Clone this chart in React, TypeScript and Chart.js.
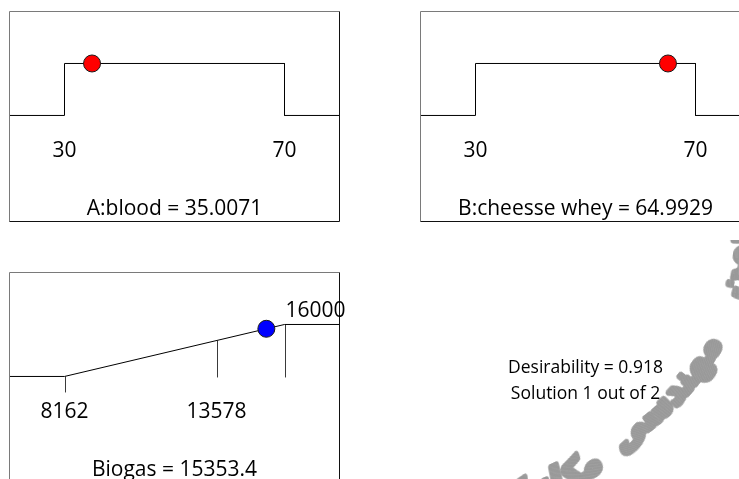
import { useEffect, useRef } from "react";
import { Chart, registerables } from "chart.js";

Chart.register(...registerables);

const FONT = '"Open Sans", "Noto Sans", "DejaVu Sans", sans-serif';

// Factor A: blood — limits of the allowed range and the optimum found
const bloodRange = [30, 70];
const bloodOptimum = 35.0071;

// Factor B: cheesse whey
const wheyRange = [30, 70];
const wheyOptimum = 64.9929;

// Response: biogas — low limit, intermediate mark, high limit, predicted value
const biogasMarks = [8162, 13578, 16000];
const biogasOptimum = 15353.4;

// Overall result of the optimisation
const desirability = 0.918;
const solutionNo = 1;
const solutionTotal = 2;

const watermarkWords = ["انجمن", "مهندسی", "مکانیک"];

type Pt = { x: number; y: number };

// In-range desirability for a factor: 0 outside the limits, 1 inside.
function stepRamp(lo: number, hi: number): Pt[] {
  const pad = (hi - lo) * 0.25;
  return [
    { x: lo - pad, y: 0 },
    { x: lo, y: 0 },
    { x: lo, y: 1 },
    { x: hi, y: 1 },
    { x: hi, y: 0 },
    { x: hi + pad, y: 0 },
  ];
}

// Maximise-goal desirability: linear rise from the low to the high limit.
function riseRamp(lo: number, hi: number): Pt[] {
  const pad = (hi - lo) * 0.25;
  return [
    { x: lo - pad, y: 0 },
    { x: lo, y: 0 },
    { x: hi, y: 1 },
    { x: hi + pad, y: 1 },
  ];
}

const riseValue = (v: number, lo: number, hi: number) =>
  Math.max(0, Math.min(1, (v - lo) / (hi - lo)));

type TickSpec = { value: number; label: string; atTop?: boolean };
type MarkSpec = { value: number; kind: "below" | "drop" };

// Frame, value labels and caption of one ramp panel.
const panelDecor = {
  id: "panelDecor",
  beforeDatasetsDraw(chart: any, _a: any, opts: any) {
    const { ctx, scales } = chart;
    const xs = scales.x;
    const ys = scales.y;
    const y0 = ys.getPixelForValue(0);
    ctx.save();
    ctx.lineWidth = 1;
    ctx.strokeStyle = "#3a3a3a";
    for (const m of (opts.marks || []) as MarkSpec[]) {
      const px = Math.round(xs.getPixelForValue(m.value)) + 0.5;
      ctx.beginPath();
      if (m.kind === "below") {
        ctx.moveTo(px, y0);
        ctx.lineTo(px, y0 + 16);
      } else {
        ctx.moveTo(px, ys.getPixelForValue(riseValue(m.value, opts.rampLo, opts.rampHi)));
        ctx.lineTo(px, y0 + 1);
      }
      ctx.stroke();
    }
    ctx.restore();
  },
  afterDraw(chart: any, _a: any, opts: any) {
    const { ctx, chartArea: a, scales } = chart;
    const xs = scales.x;
    const ys = scales.y;
    ctx.save();
    ctx.lineWidth = 1;
    ctx.strokeStyle = "#7a7a7a";
    ctx.beginPath();
    ctx.moveTo(a.left, a.bottom);
    ctx.lineTo(a.left, a.top);
    ctx.lineTo(a.right, a.top);
    ctx.stroke();
    ctx.strokeStyle = "#111";
    ctx.beginPath();
    ctx.moveTo(a.right, a.top);
    ctx.lineTo(a.right, a.bottom);
    ctx.lineTo(a.left, a.bottom);
    ctx.stroke();

    ctx.fillStyle = "#000";
    ctx.font = `21px ${FONT}`;
    ctx.textBaseline = "alphabetic";
    for (const t of opts.ticks as TickSpec[]) {
      const px = xs.getPixelForValue(t.value);
      if (t.atTop) {
        ctx.textAlign = "left";
        ctx.fillText(t.label, px + 1, ys.getPixelForValue(1) - 7);
      } else {
        ctx.textAlign = "center";
        ctx.fillText(t.label, px, a.top + 145.5);
      }
    }
    ctx.textAlign = "center";
    ctx.fillText(opts.caption, (a.left + a.right) / 2, a.top + 203.5);
    ctx.restore();
  },
};

// Baseline radius of the watermark path: a circle that opens out
// towards the lower-left end.
const pathRadius = (deg: number) => 246 + Math.max(0, deg - 55) * 0.9;
const WM_CX = 502;
const WM_CY = 232;

// One word bent along the path, glyph tops facing the centre.
// `rightAngle` is where the word's visual right end sits (degrees, screen space).
function drawArcWord(
  ctx: CanvasRenderingContext2D,
  word: string,
  font: string,
  size: number,
  rightAngle: number,
  color: string
) {
  const probe = document.createElement("canvas").getContext("2d")!;
  probe.font = font;
  const w = probe.measureText(word).width;
  const pad = 16;
  const off = document.createElement("canvas");
  off.width = Math.ceil(w + pad * 2);
  off.height = Math.ceil(size * 2.2);
  const B = Math.round(size * 1.3);
  const oc = off.getContext("2d")!;
  oc.font = font;
  oc.direction = "rtl";
  oc.textAlign = "right";
  oc.textBaseline = "alphabetic";
  oc.fillStyle = color;
  oc.strokeStyle = color;
  oc.lineWidth = size * 0.17;
  oc.lineJoin = "round";
  const xr = off.width - pad;
  oc.strokeText(word, xr, B);
  oc.fillText(word, xr, B);

  // walk the columns from the right end leftwards, advancing along the path
  let deg = rightAngle - (pad * 180) / Math.PI / pathRadius(rightAngle);
  for (let x = off.width - 1; x >= 0; x--) {
    const R = pathRadius(deg);
    const th = (deg * Math.PI) / 180;
    ctx.save();
    ctx.translate(WM_CX + R * Math.cos(th), WM_CY + R * Math.sin(th));
    ctx.rotate(th - Math.PI / 2);
    ctx.drawImage(off, x, 0, 1, off.height, 0, -B, 1.5, off.height);
    ctx.restore();
    deg += (180 / Math.PI) / R;
  }
}

function drawWatermark(ctx: CanvasRenderingContext2D) {
  const probe = document.createElement("canvas").getContext("2d")!;
  probe.font = `bold 100px "DejaVu Sans", sans-serif`;
  const size = (100 * 150) / probe.measureText(watermarkWords[1]).width;
  const font = `bold ${size}px "DejaVu Sans", sans-serif`;
  probe.font = font;
  const leadSpan =
    (probe.measureText(watermarkWords[0]).width / pathRadius(10)) * (180 / Math.PI);
  const color = "#999999";
  drawArcWord(ctx, watermarkWords[0], font, size, 16 - leadSpan, color);
  drawArcWord(ctx, watermarkWords[1], font, size, 27, color);
  drawArcWord(ctx, watermarkWords[2], font, size, 67, color);
}

// Overall desirability read-out, drawn in page coordinates.
const solutionSummary = {
  id: "solutionSummary",
  afterDraw(chart: any, _a: any, opts: any) {
    const { ctx } = chart;
    ctx.save();
    ctx.translate(-opts.originX, -opts.originY);
    drawWatermark(ctx);
    ctx.fillStyle = "#000";
    ctx.font = `17.5px ${FONT}`;
    ctx.textAlign = "center";
    ctx.textBaseline = "alphabetic";
    ctx.fillText(`Desirability = ${desirability.toFixed(3)}`, 585.5, 372.7);
    ctx.fillText(`Solution ${solutionNo} out of ${solutionTotal}`, 585.5, 399.3);
    ctx.restore();
  },
};

type PanelSpec = {
  key: string;
  x: number;
  y: number;
  w: number;
  h: number;
  box: { l: number; t: number; r: number; b: number };
  ramp: Pt[];
  lo: number;
  hi: number;
  optimum: number;
  optimumD: number;
  dot: string;
  ticks: TickSpec[];
  marks: MarkSpec[];
  caption: string;
  summary?: boolean;
};

const panels: PanelSpec[] = [
  {
    key: "blood",
    x: 0,
    y: 0,
    w: 352,
    h: 236,
    box: { l: 9.5, t: 11.5, r: 339.5, b: 221.5 },
    ramp: stepRamp(bloodRange[0], bloodRange[1]),
    lo: bloodRange[0],
    hi: bloodRange[1],
    optimum: bloodOptimum,
    optimumD: 1,
    dot: "#ff0000",
    ticks: bloodRange.map((v) => ({ value: v, label: String(v) })),
    marks: [],
    caption: `A:blood = ${bloodOptimum}`,
  },
  {
    key: "whey",
    x: 410,
    y: 0,
    w: 352,
    h: 236,
    box: { l: 420.5, t: 11.5, r: 750.5, b: 221.5 },
    ramp: stepRamp(wheyRange[0], wheyRange[1]),
    lo: wheyRange[0],
    hi: wheyRange[1],
    optimum: wheyOptimum,
    optimumD: 1,
    dot: "#ff0000",
    ticks: wheyRange.map((v) => ({ value: v, label: String(v) })),
    marks: [],
    caption: `B:cheesse whey = ${wheyOptimum}`,
  },
  {
    key: "biogas",
    x: 0,
    y: 240,
    w: 739,
    h: 260,
    box: { l: 9.5, t: 272.5, r: 339.5, b: 482.5 },
    ramp: riseRamp(biogasMarks[0], biogasMarks[2]),
    lo: biogasMarks[0],
    hi: biogasMarks[2],
    optimum: biogasOptimum,
    optimumD: riseValue(biogasOptimum, biogasMarks[0], biogasMarks[2]),
    dot: "#0000ff",
    ticks: [
      { value: biogasMarks[0], label: String(biogasMarks[0]) },
      { value: biogasMarks[1], label: String(biogasMarks[1]) },
      { value: biogasMarks[2], label: String(biogasMarks[2]), atTop: true },
    ],
    marks: [
      { value: biogasMarks[0], kind: "below" },
      { value: biogasMarks[1], kind: "drop" },
      { value: biogasMarks[2], kind: "drop" },
    ],
    caption: `Biogas = ${biogasOptimum}`,
    summary: true,
  },
];

function makeConfig(p: PanelSpec): any {
  const pad = (p.hi - p.lo) * 0.25;
  return {
    type: "scatter",
    data: {
      datasets: [
        {
          data: [{ x: p.optimum, y: p.optimumD }],
          pointRadius: 8.5,
          pointBackgroundColor: p.dot,
          backgroundColor: p.dot,
          pointBorderColor: "#1a1a1a",
          borderColor: "#1a1a1a",
          pointBorderWidth: 1,
          order: 0,
        },
        {
          data: p.ramp,
          showLine: true,
          borderColor: "#000",
          borderWidth: 1,
          pointRadius: 0,
          tension: 0,
          order: 1,
        },
      ],
    },
    options: {
      responsive: false,
      animation: false,
      events: [],
      layout: {
        padding: {
          left: p.box.l - p.x,
          top: p.box.t - p.y,
          right: p.x + p.w - p.box.r,
          bottom: p.y + p.h - p.box.b,
        },
      },
      scales: {
        x: { type: "linear", display: false, min: p.lo - pad, max: p.hi + pad },
        y: { type: "linear", display: false, min: -2.04, max: 2 },
      },
      plugins: {
        legend: { display: false },
        tooltip: { enabled: false },
        panelDecor: {
          ticks: p.ticks,
          marks: p.marks,
          caption: p.caption,
          rampLo: p.lo,
          rampHi: p.hi,
        },
        solutionSummary: { originX: p.x, originY: p.y },
      },
    },
    plugins: p.summary ? [panelDecor, solutionSummary] : [panelDecor],
  };
}

function PanelChart({ spec }: { spec: PanelSpec }) {
  const ref = useRef<HTMLCanvasElement>(null);
  useEffect(() => {
    const chart = new Chart(ref.current!, makeConfig(spec));
    return () => chart.destroy();
  }, [spec]);
  return (
    <canvas
      ref={ref}
      width={spec.w}
      height={spec.h}
      style={{
        position: "absolute",
        left: spec.x,
        top: spec.y,
        width: spec.w,
        height: spec.h,
      }}
    />
  );
}

export default function App() {
  return (
    <div
      style={{
        position: "fixed",
        left: 0,
        top: 0,
        width: 739,
        height: 479,
        overflow: "hidden",
        background: "#fff",
      }}
    >
      {panels.map((p) => (
        <PanelChart key={p.key} spec={p} />
      ))}
    </div>
  );
}
